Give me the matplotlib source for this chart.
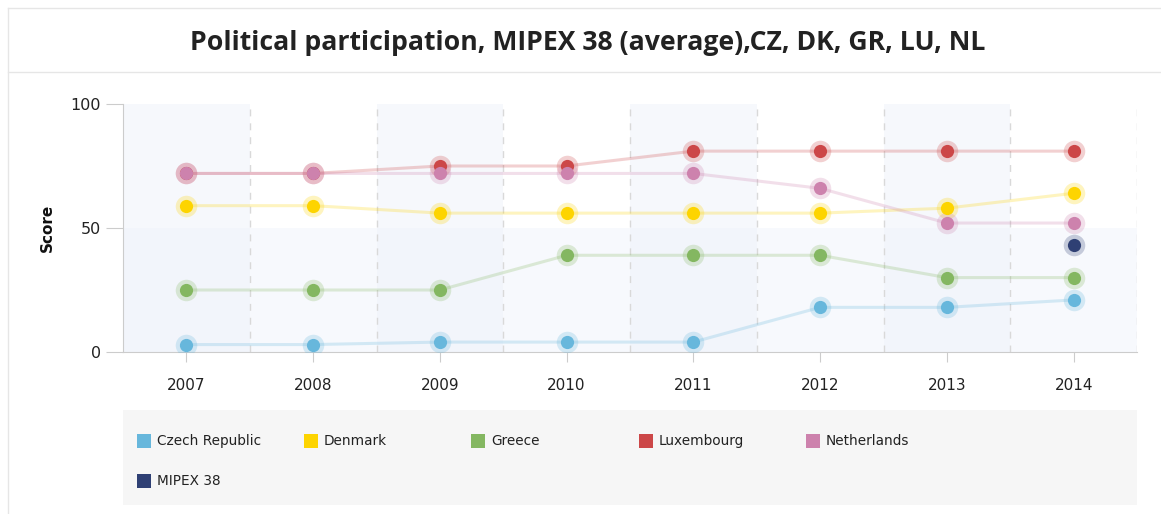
import matplotlib
matplotlib.use("Agg")
import matplotlib.pyplot as plt
from matplotlib.lines import Line2D
from matplotlib.patches import Rectangle
import numpy as np

plt.rcParams["font.family"] = ["DejaVu Sans"]

years = ["2007", "2008", "2009", "2010", "2011", "2012", "2013", "2014"]
czech = [3, 3, 4, 4, 4, 18, 18, 21]
denmark = [59, 59, 56, 56, 56, 56, 58, 64]
greece = [25, 25, 25, 39, 39, 39, 30, 30]
luxembourg = [72, 72, 75, 75, 81, 81, 81, 81]
netherlands = [72, 72, 72, 72, 72, 66, 52, 52]
mipex_years = ["2014"]
mipex = [43]

series_names = ["Czech Republic", "Denmark", "Greece", "Luxembourg", "Netherlands", "MIPEX 38"]
colors = ["#67b7dc", "#fdd400", "#84b761", "#cc4748", "#cd82ad", "#2f4074"]

W, H = 1161, 514
fig = plt.figure(figsize=(W / 100, H / 100), dpi=100)
fig.patch.set_facecolor("white")

def fx(px):
    return px / W

def fy(py):
    return 1 - py / H

# outer border and header separator
border = "#e6e6e6"
fig.add_artist(Line2D([fx(8), fx(8)], [fy(8), 0], color=border, lw=1))
fig.add_artist(Line2D([fx(8), 1], [fy(8), fy(8)], color=border, lw=1))
fig.add_artist(Line2D([fx(8), 1], [fy(72), fy(72)], color=border, lw=1))

fig.text(fx(588), fy(43), "Political participation, MIPEX 38 (average),CZ, DK, GR, LU, NL",
         ha="center", va="center", fontsize=19.2, fontweight="bold",
         family=["Open Sans", "DejaVu Sans"], color="#222222")

left, right, top, bottom = 123, 1137, 104, 352
ax = fig.add_axes([fx(left), fy(bottom), (right - left) / W, (bottom - top) / H])
ax.set_facecolor("white")
n = len(years)
xs = np.arange(n)
ax.set_xlim(-0.5, n - 0.5)
ax.set_ylim(0, 100)

# background bands
for i in range(0, n, 2):
    ax.axvspan(i - 0.5, i + 0.5, color="#eef2fb", alpha=0.5, lw=0, zorder=0)
ax.axhspan(0, 50, color="#eef2fb", alpha=0.45, lw=0, zorder=0)
for i in range(n):
    ax.axvline(i + 0.5, color="#d9d9d9", lw=1, ls=(0, (5, 5)), zorder=1)

data = [czech, denmark, greece, luxembourg, netherlands]
for vals, c in zip(data, colors[:5]):
    ax.plot(xs, vals, color=c, lw=2.2, alpha=0.25, zorder=2, solid_capstyle="butt")
for vals, c in zip(data, colors[:5]):
    ax.plot(xs, vals, ls="none", marker="o", ms=15.5, color=c, alpha=0.25, mew=0, zorder=3)
    ax.plot(xs, vals, ls="none", marker="o", ms=9.5, color=c, mew=0, zorder=4)
mx = [years.index(y) for y in mipex_years]
ax.plot(mx, mipex, ls="none", marker="o", ms=15.5, color=colors[5], alpha=0.25, mew=0, zorder=3)
ax.plot(mx, mipex, ls="none", marker="o", ms=9.5, color=colors[5], mew=0, zorder=4)

for s in ["top", "right"]:
    ax.spines[s].set_visible(False)
ax.spines["left"].set_color("#cccccc")
ax.spines["bottom"].set_color("#cccccc")
ax.set_yticks([0, 50, 100])
ax.set_yticklabels(["0", "50", "100"])
ax.set_xticks(xs)
ax.set_xticklabels(years)
ax.tick_params(axis="y", length=12, color="#cccccc", labelsize=11.5, labelcolor="#222222", pad=4)
ax.tick_params(axis="x", length=7, color="#cccccc", labelsize=11, labelcolor="#222222", pad=12)
ax.set_ylabel("Score", fontsize=11, fontweight="bold", labelpad=11, color="#111111")

# legend box
fig.add_artist(Rectangle((fx(123), fy(505)), (1137 - 123) / W, (505 - 410) / H,
                         transform=fig.transFigure, facecolor="#f6f6f6", edgecolor="none"))
leg_x = [137, 304, 471, 639, 806, 137]
leg_y = [441, 441, 441, 441, 441, 481]
for name, c, lx, ly in zip(series_names, colors, leg_x, leg_y):
    fig.add_artist(Rectangle((fx(lx), fy(ly + 7)), 14 / W, 14 / H, transform=fig.transFigure,
                             facecolor=c, edgecolor="none"))
    fig.text(fx(lx + 20), fy(ly), name, ha="left", va="center", fontsize=9.8, color="#222222")

fig.savefig("out.png", dpi=100)
